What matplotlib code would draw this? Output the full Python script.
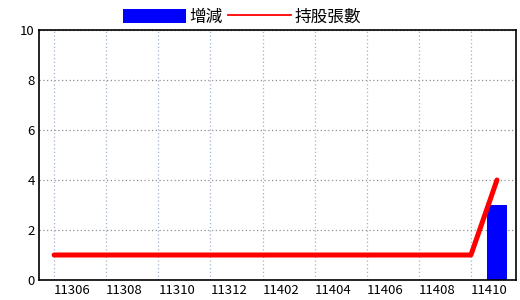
import matplotlib.pyplot as plt
from matplotlib.patches import Patch
from matplotlib.lines import Line2D

plt.rcParams['font.family'] = ['Noto Sans CJK TC', 'DejaVu Sans']

months = ['11306', '11307', '11308', '11309', '11310', '11311', '11312',
          '11401', '11402', '11403', '11404', '11405', '11406', '11407',
          '11408', '11409', '11410', '11411']
holdings = [1, 1, 1, 1, 1, 1, 1, 1, 1, 1, 1, 1, 1, 1, 1, 1, 1, 4]
change = [0, 0, 0, 0, 0, 0, 0, 0, 0, 0, 0, 0, 0, 0, 0, 0, 0, 3]
yticks = [0, 2, 4, 6, 8, 10]

x = list(range(len(months)))

fig = plt.figure(figsize=(5.2, 3.0), dpi=100)
ax = fig.add_axes([0.075, 0.0667, 0.9173, 0.8333])

ax.bar(x, change, width=0.77, color='#0000ff', zorder=2)
ax.plot(x, holdings, color='#ff0000', lw=3.6, solid_capstyle='round', zorder=3)

ax.set_xlim(-0.58, len(months) - 1 + 0.73)
ax.set_ylim(0, 10)
ax.set_yticks(yticks)
ax.set_xticks(x[::2])
ax.set_xticklabels(months[::2], ha='left')
ax.tick_params(axis='both', length=0, labelsize=9.5, colors='black')
ax.tick_params(axis='x', pad=3)
ax.tick_params(axis='y', pad=3)

ax.xaxis.grid(True, color='#9fb4cc', ls=(0, (1, 2)), lw=0.9)
ax.yaxis.grid(True, color='#909090', ls=(0, (1, 2)), lw=0.9)
ax.set_axisbelow(True)
for s in ax.spines.values():
    s.set_linewidth(1.2)
    s.set_color('black')

handles = [Patch(facecolor='#0000ff', edgecolor='none'),
           Line2D([0], [0], color='#ff0000', lw=1.3)]
fig.legend(handles, ['增減', '持股張數'], loc='upper center',
           bbox_to_anchor=(0.465, 1.005), ncol=2, frameon=False,
           fontsize=12, handlelength=3.8, handleheight=1.0,
           handletextpad=0.2, columnspacing=0.3, borderaxespad=0.2)

fig.savefig('out.png', dpi=100)
